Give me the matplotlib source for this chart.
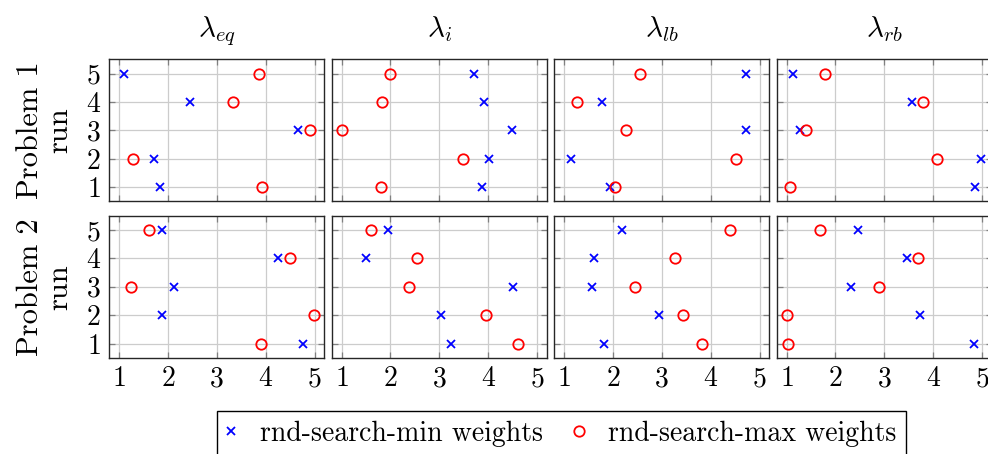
import matplotlib
matplotlib.use("Agg")
import matplotlib.pyplot as plt
from matplotlib.lines import Line2D

plt.rcParams["font.family"] = "serif"
plt.rcParams["font.serif"] = ["cmr10"]
plt.rcParams["mathtext.fontset"] = "cm"
plt.rcParams["axes.unicode_minus"] = False
plt.rcParams["axes.formatter.use_mathtext"] = True

# column titles, row labels
params = [r"$\lambda_{eq}$", r"$\lambda_{i}$", r"$\lambda_{lb}$", r"$\lambda_{rb}$"]
problems = ["Problem 1\nrun", "Problem 2\nrun"]
runs = [5, 4, 3, 2, 1]

# values per run (5,4,3,2,1)
p1_min_eq = [1.11, 2.46, 4.66, 1.72, 1.83]
p1_max_eq = [3.87, 3.33, 4.90, 1.29, 3.92]
p1_min_i = [3.70, 3.91, 4.48, 4.02, 3.87]
p1_max_i = [1.99, 1.82, 1.00, 3.49, 1.80]
p1_min_lb = [4.72, 1.78, 4.72, 1.15, 1.95]
p1_max_lb = [2.56, 1.27, 2.26, 4.52, 2.05]
p1_min_rb = [1.14, 3.56, 1.27, 4.97, 4.86]
p1_max_rb = [1.79, 3.80, 1.39, 4.07, 1.06]

p2_min_eq = [1.87, 4.26, 2.13, 1.87, 4.77]
p2_max_eq = [1.61, 4.49, 1.24, 4.99, 3.90]
p2_min_i = [1.94, 1.50, 4.50, 3.03, 3.24]
p2_max_i = [1.60, 2.55, 2.37, 3.95, 4.61]
p2_min_lb = [2.18, 1.61, 1.57, 2.94, 1.81]
p2_max_lb = [4.39, 3.27, 2.45, 3.43, 3.82]
p2_min_rb = [2.47, 3.46, 2.32, 3.73, 4.84]
p2_max_rb = [1.69, 3.68, 2.89, 1.00, 1.03]

min_vals = [[p1_min_eq, p1_min_i, p1_min_lb, p1_min_rb],
            [p2_min_eq, p2_min_i, p2_min_lb, p2_min_rb]]
max_vals = [[p1_max_eq, p1_max_i, p1_max_lb, p1_max_rb],
            [p2_max_eq, p2_max_i, p2_max_lb, p2_max_rb]]

W, H = 988, 454
fig = plt.figure(figsize=(W / 100, H / 100), dpi=100)

lefts = [109.3, 331.8, 554.3, 776.8]
tops = [59.3, 215.7]
aw, ah = 215.0, 142.0

for r in range(2):
    for c in range(4):
        ax = fig.add_axes([lefts[c] / W, 1 - (tops[r] + ah) / H, aw / W, ah / H])
        ax.grid(True, color="#cccccc", lw=0.9, zorder=0)
        ax.set_axisbelow(True)
        ax.plot(min_vals[r][c], runs, ls="none", marker="x", ms=5.5, mew=1.3,
                color="#0000ff", zorder=3)
        ax.plot(max_vals[r][c], runs, ls="none", marker="o", ms=7.5, mew=1.3,
                mfc="none", mec="#ff0000", zorder=3)
        ax.set_xlim(0.8, 5.2)
        ax.set_ylim(0.5, 5.5)
        ax.set_xticks([1, 2, 3, 4, 5])
        ax.set_yticks([1, 2, 3, 4, 5])
        ax.tick_params(direction="in", length=4.5, width=0.9, color="#808080",
                       top=True, right=True, labelsize=20, pad=6)
        for s in ax.spines.values():
            s.set_color("#262626")
            s.set_linewidth(1.0)
        if r == 0:
            ax.set_title(params[c], fontsize=21, pad=16)
            ax.tick_params(labelbottom=False)
        if c == 0:
            ax.set_ylabel(problems[r], fontsize=22, multialignment="center",
                          labelpad=9, linespacing=1.1)
        else:
            ax.tick_params(labelleft=False)

handles = [
    Line2D([], [], ls="none", marker="x", ms=5.5, mew=1.3, color="#0000ff"),
    Line2D([], [], ls="none", marker="o", ms=7.5, mew=1.3, mfc="none", mec="#ff0000"),
]
leg = fig.legend(handles, ["rnd-search-min weights", "rnd-search-max weights"],
                 loc="upper center", bbox_to_anchor=(561.5 / W, 1 - 410.7 / H),
                 ncol=2, fontsize=20, frameon=True, fancybox=False, edgecolor="black",
                 framealpha=1, borderaxespad=0, borderpad=0.35, handlelength=0.3,
                 handletextpad=0.9, columnspacing=1.15)
leg.get_frame().set_linewidth(1.0)

fig.savefig("out.png", dpi=100)
